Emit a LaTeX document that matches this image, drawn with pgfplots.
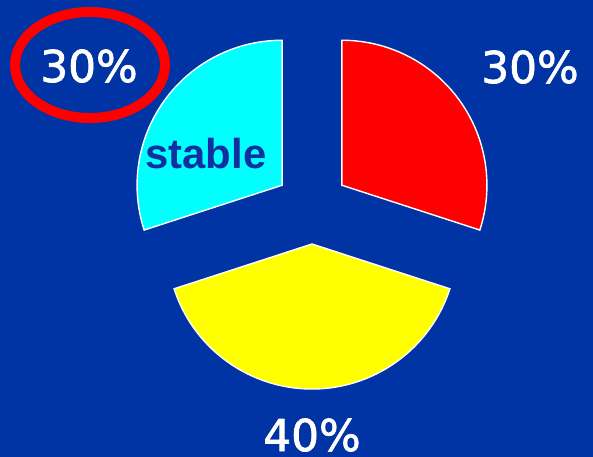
\documentclass[border=0pt]{standalone}
\usepackage{pgfplots}
\pgfplotsset{compat=1.18}
\usepackage{fontspec}
\setmainfont{DejaVu Sans}
\newfontfamily\pctfont{DejaVu Sans}[FakeBold=1.6]
\newfontfamily\arialb{Liberation Sans Bold}
\definecolor{bgblue}{RGB}{0,51,163}
\definecolor{txtblue}{RGB}{16,48,160}
\definecolor{pcyan}{RGB}{0,255,255}
\definecolor{pred}{RGB}{255,0,0}
\definecolor{pyellow}{RGB}{255,255,0}
% pie values (percent)
\def\vStable{30}
\def\vRed{30}
\def\vYellow{40}
\begin{document}
\begin{tikzpicture}
\begin{axis}[scale only axis, width=593bp, height=457bp,
  xmin=0, xmax=593, ymin=0, ymax=457, hide axis, clip=false]
  \fill[bgblue] (axis cs:0,0) rectangle (axis cs:593,457);
  % center of pie, radius, explosion offset
  \def\cx{312}\def\cy{250}\def\R{145}\def\d{37}
  % red slice: from 90 clockwise
  \pgfmathsetmacro{\rEnd}{90-3.6*\vRed}
  \pgfmathsetmacro{\rMid}{(90+\rEnd)/2}
  \pgfmathsetmacro{\rx}{\cx+\d*cos(\rMid)}
  \pgfmathsetmacro{\ry}{\cy+\d*sin(\rMid)}
  \filldraw[fill=pred, draw=white, line width=1.4bp, line join=miter]
    (axis cs:\rx,\ry) -- ++(90:\R bp) arc[start angle=90, end angle=\rEnd, radius=\R bp] -- cycle;
  % cyan slice: from 90 counter-clockwise
  \pgfmathsetmacro{\sEnd}{90+3.6*\vStable}
  \pgfmathsetmacro{\sMid}{(90+\sEnd)/2}
  \pgfmathsetmacro{\sx}{\cx+\d*cos(\sMid)}
  \pgfmathsetmacro{\sy}{\cy+\d*sin(\sMid)}
  \filldraw[fill=pcyan, draw=white, line width=1.4bp, line join=miter]
    (axis cs:\sx,\sy) -- ++(90:\R bp) arc[start angle=90, end angle=\sEnd, radius=\R bp] -- cycle;
  % yellow slice
  \pgfmathsetmacro{\yEnd}{\sEnd+3.6*\vYellow}
  \pgfmathsetmacro{\yMid}{(\sEnd+\yEnd)/2}
  \pgfmathsetmacro{\yx}{\cx+\d*cos(\yMid)}
  \pgfmathsetmacro{\yy}{\cy+\d*sin(\yMid)}
  \filldraw[fill=pyellow, draw=white, line width=1.4bp, line join=miter]
    (axis cs:\yx,\yy) -- ++(\sEnd:\R bp) arc[start angle=\sEnd, end angle=\yEnd, radius=\R bp] -- cycle;
  % labels
  \node[anchor=base, text=white, font=\pctfont\fontsize{44}{44}\selectfont, inner sep=0pt] at (axis cs:89,375) {30\%};
  \node[anchor=base, text=white, font=\pctfont\fontsize{44}{44}\selectfont, inner sep=0pt] at (axis cs:530,374) {30\%};
  \node[anchor=base, text=white, font=\pctfont\fontsize{44}{44}\selectfont, inner sep=0pt] at (axis cs:312,6) {40\%};
  \node[anchor=base, text=txtblue, font=\arialb\fontsize{42}{42}\selectfont, inner sep=0pt] at (axis cs:206,288) {stable};
  % red ellipse highlight
  \draw[pred, line width=10bp] (axis cs:90,392) ellipse[x radius=75bp, y radius=53bp];
\end{axis}
\end{tikzpicture}
\end{document}
